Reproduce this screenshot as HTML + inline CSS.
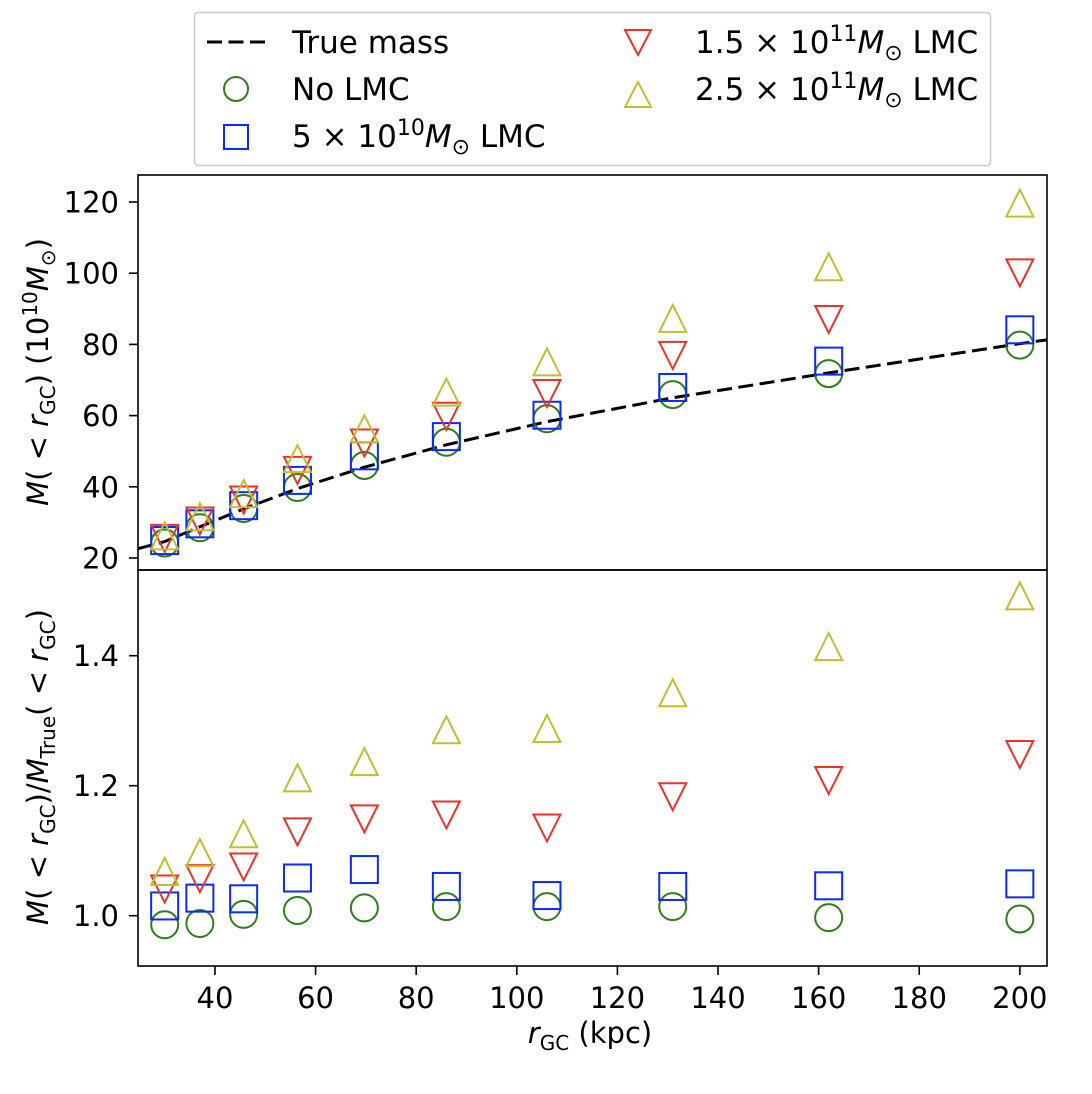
<!DOCTYPE html>
<html><head><meta charset="utf-8">
<style>
html,body{margin:0;padding:0;background:#fff;}
svg{display:block;font-family:"DejaVu Sans","Liberation Sans",sans-serif;}
</style></head>
<body>
<svg id="chart" width="1092" height="1094" viewBox="0 0 1092 1094" xmlns="http://www.w3.org/2000/svg">
</svg>
<script>
// ---- data ----
const radii = [30, 37, 45.7, 56.4, 69.7, 86, 106, 131, 162, 200];
const trueCurveR = [24.7, 30, 37, 45.7, 56.4, 69.7, 86, 106, 131, 162, 200, 205.4];
const trueCurveM = [22.6, 24.6, 28.8, 33.8, 39.5, 45.5, 51.8, 58.3, 65.0, 72.0, 80.2, 81.3];
const massNoLMC = [24.2, 28.5, 33.9, 39.8, 46.0, 52.5, 59.1, 65.9, 71.8, 79.8];
const mass5e10 = [24.9, 29.6, 34.7, 41.8, 48.7, 54.1, 60.1, 67.9, 75.3, 84.1];
const mass15e11 = [25.5, 30.4, 36.3, 44.6, 52.3, 59.8, 66.2, 76.9, 87.0, 100.1];
const mass25e11 = [26.2, 31.6, 38.1, 47.9, 56.3, 66.6, 75.1, 87.3, 101.8, 119.7];
const ratioNoLMC = [0.986, 0.988, 1.002, 1.008, 1.012, 1.014, 1.014, 1.014, 0.997, 0.995];
const ratio5e10 = [1.015, 1.027, 1.026, 1.058, 1.071, 1.045, 1.031, 1.045, 1.046, 1.049];
const ratio15e11 = [1.041, 1.057, 1.075, 1.129, 1.149, 1.155, 1.135, 1.183, 1.208, 1.248];
const ratio25e11 = [1.068, 1.097, 1.126, 1.212, 1.237, 1.286, 1.288, 1.343, 1.414, 1.492];
const xTicks = [40, 60, 80, 100, 120, 140, 160, 180, 200];
const topTicks = [20, 40, 60, 80, 100, 120];
const botTicks = [1.0, 1.2, 1.4];
const botTickLabels = ["1.0", "1.2", "1.4"];

// ---- axes ----
const L = 138, R = 1047, T1 = 175, B1 = 570, T2 = 570, B2 = 966;
const xMin = 24.7, xMax = 205.4;
const xs = v => L + (v - xMin) / (xMax - xMin) * (R - L);
const yTop = v => 558 - (v - 20) * 3.56;
const yBot = v => 915.7 - (v - 1.0) * 650;

const svg = document.getElementById('chart');
const NS = 'http://www.w3.org/2000/svg';
function mk(tag, attrs, parent) {
  const e = document.createElementNS(NS, tag);
  for (const k in attrs) e.setAttribute(k, attrs[k]);
  (parent || svg).appendChild(e);
  return e;
}
const COL = {g: '#2f7d1d', b: '#0a2cf2', r: '#e8342a', y: '#c3bd36'};
const S = 13.5;
const SW = 2;
function marker(kind, cx, cy, color, g) {
  let e;
  if (kind === 'o') e = mk('circle', {cx, cy, r: S, fill: 'none', stroke: color, 'stroke-width': SW}, g);
  else if (kind === 's') e = mk('rect', {x: cx - S, y: cy - S, width: 2 * S, height: 2 * S, fill: 'none', stroke: color, 'stroke-width': SW}, g);
  else if (kind === 'v') e = mk('polygon', {points: `${cx - S},${cy - S} ${cx + S},${cy - S} ${cx},${cy + S}`, fill: 'none', stroke: color, 'stroke-width': SW}, g);
  else e = mk('polygon', {points: `${cx - S},${cy + S} ${cx + S},${cy + S} ${cx},${cy - S}`, fill: 'none', stroke: color, 'stroke-width': SW}, g);
  return e;
}

const defs = mk('defs', {});
const c1 = mk('clipPath', {id: 'clipTop'}, defs); mk('rect', {x: L, y: T1, width: R - L, height: B1 - T1}, c1);
const c2 = mk('clipPath', {id: 'clipBot'}, defs); mk('rect', {x: L, y: T2, width: R - L, height: B2 - T2}, c2);

// top panel
const gTop = mk('g', {'clip-path': 'url(#clipTop)'});


let d = '';
trueCurveR.forEach((r, i) => { d += (i ? 'L' : 'M') + xs(r).toFixed(1) + ',' + yTop(trueCurveM[i]).toFixed(1); });
const line = mk('path', {d, fill: 'none', stroke: '#000', 'stroke-width': 3, 'stroke-dasharray': '15,6.5'}, gTop);


const seriesTop = [[massNoLMC, 'o', COL.g, 'no-lmc'], [mass5e10, 's', COL.b, 'lmc-5e10'], [mass15e11, 'v', COL.r, 'lmc-1.5e11'], [mass25e11, '^', COL.y, 'lmc-2.5e11']];
seriesTop.forEach(([vals, k, c, n]) => vals.forEach((v, i) => {
  const m = marker(k, xs(radii[i]), yTop(v), c, gTop);
  
  
}));

// bottom panel
const gBot = mk('g', {'clip-path': 'url(#clipBot)'});


const seriesBot = [[ratioNoLMC, 'o', COL.g, 'no-lmc'], [ratio5e10, 's', COL.b, 'lmc-5e10'], [ratio15e11, 'v', COL.r, 'lmc-1.5e11'], [ratio25e11, '^', COL.y, 'lmc-2.5e11']];
seriesBot.forEach(([vals, k, c, n]) => vals.forEach((v, i) => {
  const m = marker(k, xs(radii[i]), yBot(v), c, gBot);
  
  
}));

// frames
const f1 = mk('rect', {x: L, y: T1, width: R - L, height: B1 - T1, fill: 'none', stroke: '#000', 'stroke-width': 1.6});


const f2 = mk('rect', {x: L, y: T2, width: R - L, height: B2 - T2, fill: 'none', stroke: '#000', 'stroke-width': 1.6});



// ticks
const FS = 29;
topTicks.forEach(t => {
  const y = yTop(t);
  mk('line', {x1: L - 9, x2: L, y1: y, y2: y, stroke: '#000', 'stroke-width': 1.6});
  const tx = mk('text', {x: L - 19, y: y + 10.5, 'text-anchor': 'end', 'font-size': FS}); tx.textContent = t;
  
  
});
botTicks.forEach((t, i) => {
  const y = yBot(t);
  mk('line', {x1: L - 9, x2: L, y1: y, y2: y, stroke: '#000', 'stroke-width': 1.6});
  const tx = mk('text', {x: L - 19, y: y + 10.5, 'text-anchor': 'end', 'font-size': FS}); tx.textContent = botTickLabels[i];
  
  
});
xTicks.forEach(t => {
  const x = xs(t);
  mk('line', {x1: x, x2: x, y1: B2, y2: B2 + 9, stroke: '#000', 'stroke-width': 1.6});
  const tx = mk('text', {x, y: 1008, 'text-anchor': 'middle', 'font-size': FS}); tx.textContent = t;
  
  
});
</script>
<script>
(function(){
const svg = document.getElementById('chart');
svg.insertAdjacentHTML('beforeend', `
<text x="590" y="1043" text-anchor="middle" font-size="29"><tspan font-style="italic">r</tspan><tspan font-size="20" dy="7">GC</tspan><tspan dy="-7"> (kpc)</tspan></text>
<text transform="translate(48,372) rotate(-90)" text-anchor="middle" font-size="29"><tspan font-style="italic">M</tspan>( &lt; <tspan font-style="italic">r</tspan><tspan font-size="20" dy="7">GC</tspan><tspan dy="-7">) (10</tspan><tspan font-size="20" dy="-11">10</tspan><tspan font-style="italic" dy="11">M</tspan><tspan font-size="20" dy="7">⊙</tspan><tspan dy="-7">)</tspan></text>
<text transform="translate(48,767) rotate(-90)" text-anchor="middle" font-size="29"><tspan font-style="italic">M</tspan>( &lt; <tspan font-style="italic">r</tspan><tspan font-size="20" dy="7">GC</tspan><tspan dy="-7">)/</tspan><tspan font-style="italic">M</tspan><tspan font-size="20" dy="7">True</tspan><tspan dy="-7">( &lt; </tspan><tspan font-style="italic">r</tspan><tspan font-size="20" dy="7">GC</tspan><tspan dy="-7">)</tspan></text>
<g>
<rect x="194.5" y="12.5" width="796" height="153" rx="4" fill="#fff" stroke="#ccc" stroke-width="1.6"/>
<line x1="207" x2="267" y1="42" y2="42" stroke="#000" stroke-width="3" stroke-dasharray="15,6.5"/>
<text x="292" y="53" font-size="31">True mass</text>
<circle cx="236" cy="89" r="12" fill="none" stroke="#2f7d1d" stroke-width="2"/>
<text x="292" y="100" font-size="31">No LMC</text>
<rect x="224" y="125" width="24" height="24" fill="none" stroke="#0a2cf2" stroke-width="2"/>
<text x="292" y="147" font-size="31">5 × 10<tspan font-size="22" dy="-12">10</tspan><tspan font-style="italic" dy="12">M</tspan><tspan font-size="22" dy="7">⊙</tspan><tspan dy="-7"> LMC</tspan></text>
<polygon points="625,30 651,30 638,55" fill="none" stroke="#e8342a" stroke-width="2"/>
<text x="695" y="53" font-size="31">1.5 × 10<tspan font-size="22" dy="-12">11</tspan><tspan font-style="italic" dy="12">M</tspan><tspan font-size="22" dy="7">⊙</tspan><tspan dy="-7"> LMC</tspan></text>
<polygon points="625,107 651,107 638,82" fill="none" stroke="#c3bd36" stroke-width="2"/>
<text x="695" y="100" font-size="31">2.5 × 10<tspan font-size="22" dy="-12">11</tspan><tspan font-style="italic" dy="12">M</tspan><tspan font-size="22" dy="7">⊙</tspan><tspan dy="-7"> LMC</tspan></text>
</g>`);
})();
</script>
</body></html>
